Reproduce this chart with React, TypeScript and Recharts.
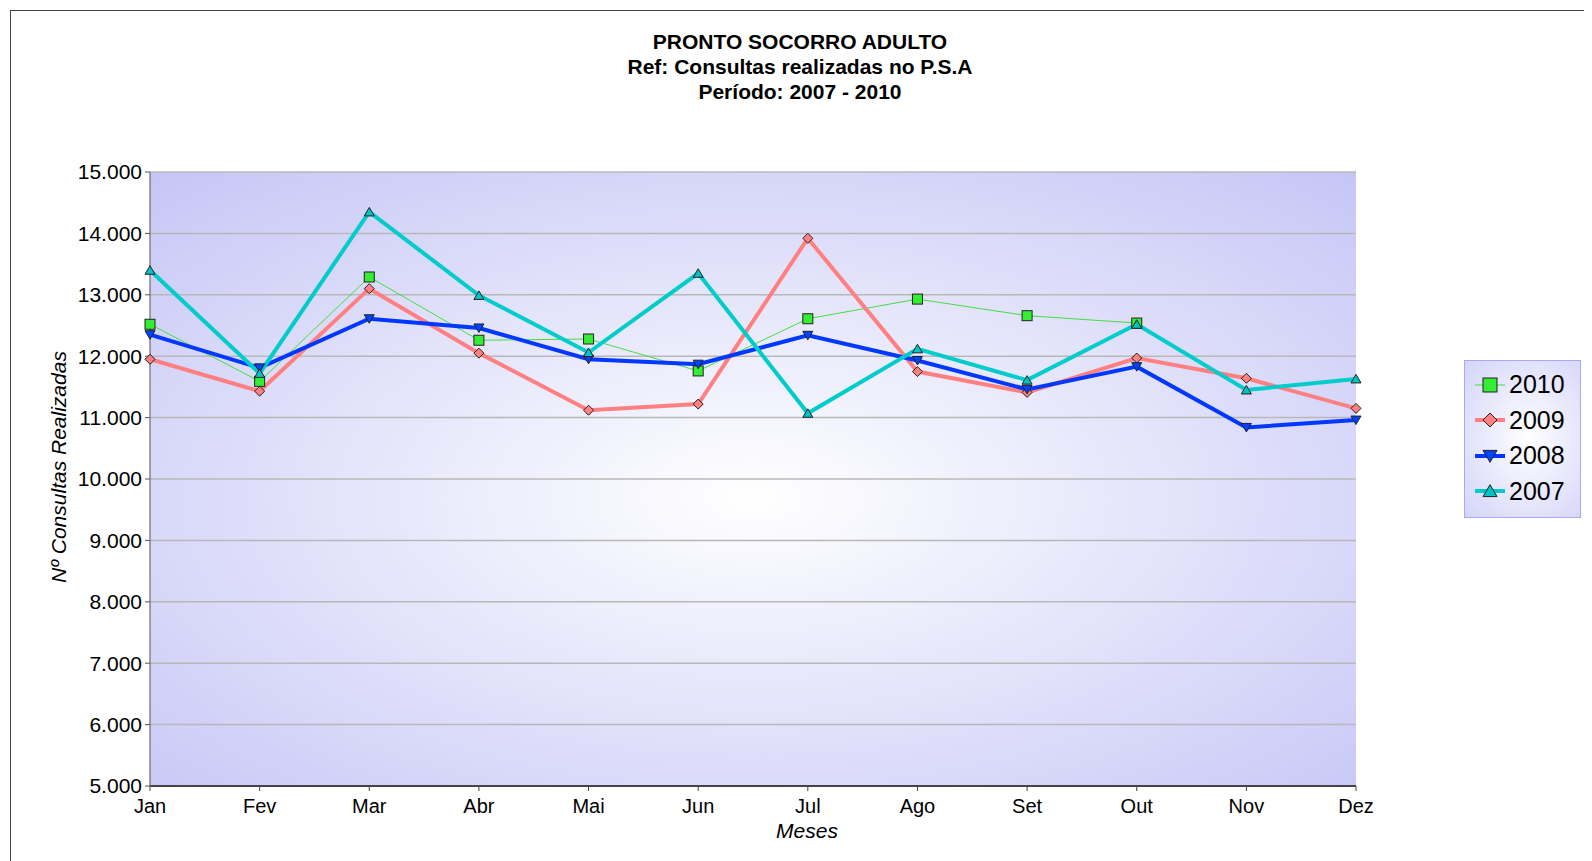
import { LineChart, Line, XAxis, YAxis, CartesianGrid } from "recharts"

// Consultas realizadas no P.S.A, por mês
const months = ["Jan", "Fev", "Mar", "Abr", "Mai", "Jun", "Jul", "Ago", "Set", "Out", "Nov", "Dez"]
const s2010 = [12520, 11590, 13290, 12260, 12280, 11760, 12610, 12930, 12660, 12540, null, null]
const s2009 = [11950, 11430, 13100, 12050, 11120, 11220, 13920, 11750, 11410, 11970, 11640, 11150]
const s2008 = [12350, 11810, 12610, 12460, 11950, 11870, 12340, 11930, 11460, 11830, 10840, 10960]
const s2007 = [13400, 11720, 14350, 12990, 12060, 13350, 11070, 12120, 11610, 12520, 11450, 11630]
const yTicks = [5000, 6000, 7000, 8000, 9000, 10000, 11000, 12000, 13000, 14000, 15000]

const data = months.map((m, i) => ({
  month: m,
  y2010: s2010[i],
  y2009: s2009[i],
  y2008: s2008[i],
  y2007: s2007[i],
}))

const FONT = "'Liberation Sans', Arial, sans-serif"

const fmt = (v: number) => String(v).replace(/\B(?=(\d{3})+(?!\d))/g, ".")

type Shape = "square" | "diamond" | "down" | "up"

function marker(shape: Shape, x: number, y: number, s: number, fill: string, key?: string | number) {
  const h = s / 2
  const common = { fill, stroke: "#222", strokeWidth: 1 }
  if (shape === "square") return <rect key={key} x={x - h} y={y - h} width={s} height={s} {...common} />
  if (shape === "diamond")
    return <polygon key={key} points={`${x},${y - h} ${x + h},${y} ${x},${y + h} ${x - h},${y}`} {...common} />
  if (shape === "down")
    return <polygon key={key} points={`${x - h},${y - h * 0.8} ${x + h},${y - h * 0.8} ${x},${y + h * 0.9}`} {...common} />
  return <polygon key={key} points={`${x - h},${y + h * 0.8} ${x + h},${y + h * 0.8} ${x},${y - h * 0.9}`} {...common} />
}

const series = [
  { key: "y2010", name: "2010", color: "#44dd44", fill: "#33ee33", width: 1, shape: "square" as Shape },
  { key: "y2009", name: "2009", color: "#ff8080", fill: "#ff8080", width: 4, shape: "diamond" as Shape },
  { key: "y2008", name: "2008", color: "#0038ff", fill: "#0044ff", width: 4, shape: "down" as Shape },
  { key: "y2007", name: "2007", color: "#00cccc", fill: "#00c4c4", width: 4, shape: "up" as Shape },
]

const makeDot = (shape: Shape, fill: string, size: number) => (props: any) => {
  const { cx, cy, index, value } = props
  if (value == null || cx == null || cy == null) return <g key={`e-${index}`} />
  return marker(shape, cx, cy, size, fill, `d-${index}`)
}

function LegendBox() {
  return (
    <div
      style={{
        position: "absolute",
        left: 1456,
        top: 352,
        width: 117,
        height: 158,
        border: "1px solid #a8a8f4",
        background: "radial-gradient(ellipse at 55% 50%, #ffffff 0%, #d4d4fa 100%)",
        boxSizing: "border-box",
        paddingTop: 6,
      }}
    >
      {series.map((s) => (
        <div key={s.key} style={{ display: "flex", alignItems: "center", height: 35.5 }}>
          <svg width={44} height={24} style={{ marginLeft: 8 }}>
            <line x1={2} y1={12} x2={32} y2={12} stroke={s.color} strokeWidth={s.width === 1 ? 1 : 4} />
            {marker(s.shape, 17, 12, 14, s.fill)}
          </svg>
          <span style={{ fontFamily: FONT, fontSize: 25, color: "#000", marginLeft: -8 }}>{s.name}</span>
        </div>
      ))}
    </div>
  )
}

export default function App() {
  return (
    <div style={{ position: "relative", width: 1584, height: 853 }}>
      <div
        style={{
          position: "absolute",
          left: 2,
          top: 2,
          right: 0,
          bottom: 0,
          borderTop: "1px solid #444",
          borderLeft: "1px solid #444",
        }}
      />
      <div
        style={{
          position: "absolute",
          left: 0,
          top: 21,
          width: 1584,
          textAlign: "center",
          fontFamily: FONT,
          fontWeight: "bold",
          fontSize: 21,
          lineHeight: "25px",
          color: "#000",
        }}
      >
        <div>PRONTO SOCORRO ADULTO</div>
        <div>Ref: Consultas realizadas no P.S.A</div>
        <div>Período: 2007 - 2010</div>
      </div>
      <LineChart
        width={1584}
        height={853}
        data={data}
        margin={{ top: 164, right: 236, bottom: 35, left: 0 }}
        style={{ position: "absolute", left: 0, top: 0 }}
      >
        <defs>
          <radialGradient id="plotBg" cx="50%" cy="53%" r="75%">
            <stop offset="0%" stopColor="#ffffff" />
            <stop offset="100%" stopColor="#c4c4f6" />
          </radialGradient>
        </defs>
        <CartesianGrid vertical={false} stroke="#b8b8b8" strokeWidth={1.5} fill="url(#plotBg)" fillOpacity={1} />
        <XAxis
          dataKey="month"
          height={40}
          axisLine={{ stroke: "#444", strokeWidth: 2 }}
          tickLine={{ stroke: "#444" }}
          tickSize={5}
          tickMargin={8}
          tick={{ fill: "#000", fontSize: 20, fontFamily: FONT }}
          interval={0}
        />
        <YAxis
          width={142}
          domain={[5000, 15000]}
          ticks={yTicks}
          tickFormatter={fmt}
          axisLine={{ stroke: "#555" }}
          tickLine={{ stroke: "#555" }}
          tickSize={5}
          tickMargin={3}
          tick={{ fill: "#000", fontSize: 21, fontFamily: FONT }}
          allowDataOverflow
        />
        {series.map((s) => (
          <Line
            key={s.key}
            dataKey={s.key}
            name={s.name}
            type="linear"
            stroke={s.color}
            strokeWidth={s.width}
            dot={makeDot(s.shape, s.fill, 10)}
            activeDot={false}
            isAnimationActive={false}
          />
        ))}
      </LineChart>
      <LegendBox />
      <div
        style={{
          position: "absolute",
          left: 0,
          top: 811,
          width: 1598,
          textAlign: "center",
          fontFamily: FONT,
          fontStyle: "italic",
          fontSize: 21,
          color: "#000",
        }}
      >
        Meses
      </div>
      <div
        style={{
          position: "absolute",
          left: 51,
          top: 459,
          width: 0,
          height: 0,
        }}
      >
        <div
          style={{
            position: "absolute",
            transform: "translate(-50%, -50%) rotate(-90deg)",
            whiteSpace: "nowrap",
            fontFamily: FONT,
            fontStyle: "italic",
            fontSize: 21,
            color: "#000",
          }}
        >
          Nº Consultas Realizadas
        </div>
      </div>
    </div>
  )
}
